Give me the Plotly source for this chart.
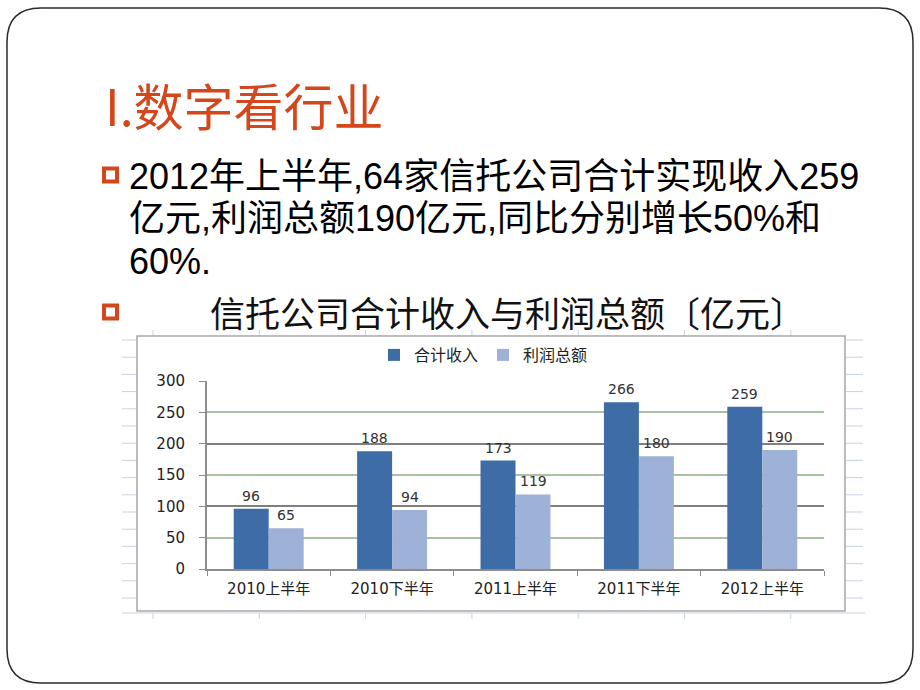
import plotly.graph_objects as go

# ---- data ----
categories = ["2010上半年", "2010下半年", "2011上半年", "2011下半年", "2012上半年"]
revenue = [96, 188, 173, 266, 259]      # 合计收入
profit = [65, 94, 119, 180, 190]        # 利润总额
series_names = ["合计收入", "利润总额"]
y_ticks = [0, 50, 100, 150, 200, 250, 300]

title_text = "I.数字看行业"
body_lines = ["2012年上半年,64家信托公司合计实现收入259",
              "亿元,利润总额190亿元,同比分别增长50%和",
              "60%."]
chart_caption = "信托公司合计收入与利润总额〔亿元〕"

# ---- layout geometry (pixels) ----
W, H = 920, 690
L, R, T, B = 207, 824, 381, 569

def px(x):
    return (x - L) / (R - L)

def py(y):
    return (B - y) / (B - T)

DARK = "#3D6CA6"
LIGHT = "#9EB1D6"
ORANGE = "#D4471B"

fig = go.Figure()
fig.add_trace(go.Bar(x=categories, y=revenue, name=series_names[0], marker_color=DARK,
                     marker_line_width=0))
fig.add_trace(go.Bar(x=categories, y=profit, name=series_names[1], marker_color=LIGHT,
                     marker_line_width=0))
# invisible trace to carry the second (dark) grid
fig.add_trace(go.Scatter(x=categories, y=revenue, yaxis="y2", mode="markers",
                         marker_opacity=0, showlegend=False, hoverinfo="skip"))

shapes = []
annotations = []

# slide rounded border
def rounded_rect(x0, y0, x1, y1, r):
    pts = [
        ("M", (x0 + r, y0)), ("L", (x1 - r, y0)), ("Q", (x1, y0), (x1, y0 + r)),
        ("L", (x1, y1 - r)), ("Q", (x1, y1), (x1 - r, y1)),
        ("L", (x0 + r, y1)), ("Q", (x0, y1), (x0, y1 - r)),
        ("L", (x0, y0 + r)), ("Q", (x0, y0), (x0 + r, y0)),
    ]
    s = ""
    for p in pts:
        cmd = p[0]
        coords = " ".join(f"{px(a):.5f},{py(b):.5f}" for a, b in p[1:])
        s += f"{cmd} {coords} "
    return s + "Z"

shapes.append(dict(type="path", xref="paper", yref="paper",
                   path=rounded_rect(7, 8, 913, 683, 34),
                   line=dict(color="#2b2b2b", width=1.5), layer="below"))

# faint spreadsheet lines around the chart object
FAINT = "#C9D2E3"
yy = 340.0
while yy <= 607:
    shapes.append(dict(type="line", xref="paper", yref="paper", x0=px(122), x1=px(137),
                       y0=py(yy), y1=py(yy), line=dict(color=FAINT, width=1), layer="below"))
    shapes.append(dict(type="line", xref="paper", yref="paper", x0=px(846), x1=px(863),
                       y0=py(yy), y1=py(yy), line=dict(color=FAINT, width=1), layer="below"))
    yy += 17.2
shapes.append(dict(type="line", xref="paper", yref="paper", x0=px(122), x1=px(865),
                   y0=py(613), y1=py(613), line=dict(color=FAINT, width=1), layer="below"))
for k in range(7):
    xx = 153 + 106.3 * k
    shapes.append(dict(type="line", xref="paper", yref="paper", x0=px(xx), x1=px(xx),
                       y0=py(613), y1=py(619), line=dict(color=FAINT, width=1), layer="below"))
    shapes.append(dict(type="line", xref="paper", yref="paper", x0=px(xx), x1=px(xx),
                       y0=py(330), y1=py(336), line=dict(color=FAINT, width=1), layer="below"))

# chart object frame
shapes.append(dict(type="rect", xref="paper", yref="paper", x0=px(137), x1=px(845),
                   y0=py(336), y1=py(611), line=dict(color="#A6A6A6", width=1.5),
                   fillcolor="white", layer="below"))

# bullets
for by in (175, 312):
    shapes.append(dict(type="rect", xref="paper", yref="paper", x0=px(104), x1=px(117),
                       y0=py(by - 6.5), y1=py(by + 6.5), line=dict(color=ORANGE, width=4),
                       fillcolor="white", layer="above"))

# title
annotations.append(dict(text=title_text, xref="paper", yref="paper", x=px(103), y=py(104),
                        xanchor="left", yanchor="middle", showarrow=False,
                        font=dict(family="Noto Sans CJK SC", size=50, color=ORANGE)))
# body text
for i, line in enumerate(body_lines):
    annotations.append(dict(text=line, xref="paper", yref="paper", x=px(127), y=py(176 + 42.5 * i),
                            xanchor="left", yanchor="middle", showarrow=False,
                            font=dict(family="Liberation Sans, Noto Sans CJK SC", size=36,
                                      color="black")))
annotations.append(dict(text=chart_caption, xref="paper", yref="paper", x=px(208), y=py(311),
                        xanchor="left", yanchor="middle", showarrow=False,
                        font=dict(family="Noto Sans CJK SC", size=35, color="#111111")))

# data labels above bars
for series, shift in ((revenue, -17.5), (profit, 17.5)):
    for c, v in zip(categories, series):
        annotations.append(dict(text=str(v), x=c, y=v, xref="x", yref="y", xshift=shift,
                                yshift=13, xanchor="center", yanchor="middle", showarrow=False,
                                font=dict(family="DejaVu Sans", size=14, color="#333333")))

fig.update_layout(
    width=W, height=H,
    margin=dict(l=L, r=W - R, t=T, b=H - B, pad=0),
    paper_bgcolor="white", plot_bgcolor="rgba(0,0,0,0)",
    barmode="group", bargap=0.433, bargroupgap=0,
    shapes=shapes, annotations=annotations,
    showlegend=True,
    legend=dict(orientation="h", x=px(374), y=py(355), xanchor="left", yanchor="middle",
                font=dict(family="Noto Sans CJK SC", size=16, color="#222222"),
                itemwidth=30, bgcolor="rgba(0,0,0,0)", tracegroupgap=0),
    xaxis=dict(type="category", showgrid=False, showline=True, linecolor="#8C8C8C", linewidth=2,
               ticks="outside", tickson="boundaries", ticklen=5, tickcolor="#8C8C8C",
               tickfont=dict(family="DejaVu Sans, Noto Sans CJK SC", size=15, color="#222222"),
               ticklabelstandoff=5),
    yaxis=dict(range=[0, 300], tickvals=y_ticks, showgrid=True, gridcolor="#A9C2A4", gridwidth=1.5,
               showline=True, linecolor="#8C8C8C", linewidth=2, ticks="outside", ticklen=6,
               tickcolor="#8C8C8C", zeroline=False,
               tickfont=dict(family="DejaVu Sans", size=15, color="#222222"),
               ticklabelstandoff=11),
    yaxis2=dict(range=[0, 300], overlaying="y", tickvals=[v for v in y_ticks if v % 100 == 0 and v > 0],
                showgrid=True, gridcolor="#7F7F7F", gridwidth=1.5, showticklabels=False,
                zeroline=False, showline=False, ticks=""),
)

fig.write_html("out.html")
